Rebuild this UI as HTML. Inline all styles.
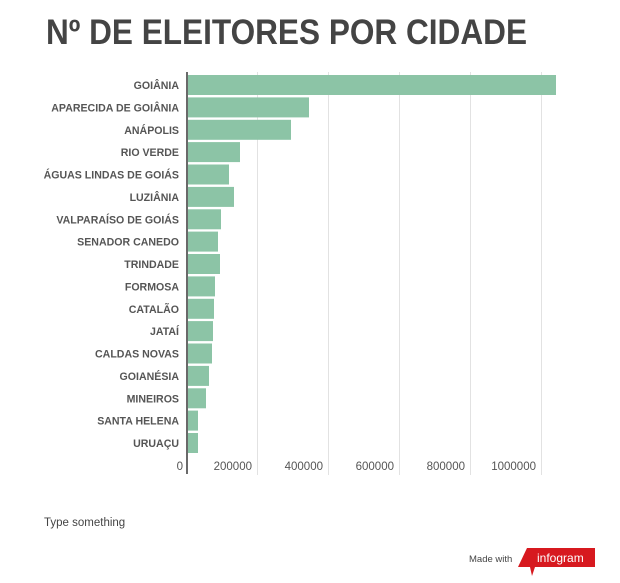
<!DOCTYPE html>
<html><head><meta charset="utf-8"><style>
html,body{margin:0;padding:0;background:#fff;}
svg{display:block;font-family:"Liberation Sans",sans-serif;}
</style></head><body>
<svg width="620" height="583" viewBox="0 0 620 583" xmlns="http://www.w3.org/2000/svg">
<text x="46" y="44" font-size="35" font-weight="bold" fill="#444" textLength="481" lengthAdjust="spacingAndGlyphs">Nº DE ELEITORES POR CIDADE</text>
<g stroke="#e2e2e2" stroke-width="1">
<line x1="257.5" y1="72" x2="257.5" y2="475"/>
<line x1="328.5" y1="72" x2="328.5" y2="475"/>
<line x1="399.5" y1="72" x2="399.5" y2="475"/>
<line x1="470.5" y1="72" x2="470.5" y2="475"/>
<line x1="541.5" y1="72" x2="541.5" y2="475"/>
</g>
<g fill="#8cc4a6">
<rect x="188" y="75" width="368" height="20"/>
<rect x="188" y="97.4" width="121" height="20"/>
<rect x="188" y="119.8" width="103" height="20"/>
<rect x="188" y="142.1" width="52" height="20"/>
<rect x="188" y="164.5" width="41" height="20"/>
<rect x="188" y="186.9" width="46" height="20"/>
<rect x="188" y="209.3" width="33" height="20"/>
<rect x="188" y="231.6" width="30" height="20"/>
<rect x="188" y="254" width="32" height="20"/>
<rect x="188" y="276.4" width="27" height="20"/>
<rect x="188" y="298.8" width="26" height="20"/>
<rect x="188" y="321.1" width="25" height="20"/>
<rect x="188" y="343.5" width="24" height="20"/>
<rect x="188" y="365.9" width="21" height="20"/>
<rect x="188" y="388.3" width="18" height="20"/>
<rect x="188" y="410.6" width="10" height="20"/>
<rect x="188" y="433" width="10" height="20"/>
</g>
<line x1="187" y1="72" x2="187" y2="474" stroke="#444" stroke-width="1.6"/>
<g font-size="10.6" font-weight="bold" fill="#555" text-anchor="end">
<text x="179" y="89">GOIÂNIA</text>
<text x="179" y="111.4">APARECIDA DE GOIÂNIA</text>
<text x="179" y="133.8">ANÁPOLIS</text>
<text x="179" y="156.1">RIO VERDE</text>
<text x="179" y="178.5">ÁGUAS LINDAS DE GOIÁS</text>
<text x="179" y="200.9">LUZIÂNIA</text>
<text x="179" y="223.3">VALPARAÍSO DE GOIÁS</text>
<text x="179" y="245.6">SENADOR CANEDO</text>
<text x="179" y="268">TRINDADE</text>
<text x="179" y="290.4">FORMOSA</text>
<text x="179" y="312.8">CATALÃO</text>
<text x="179" y="335.1">JATAÍ</text>
<text x="179" y="357.5">CALDAS NOVAS</text>
<text x="179" y="379.9">GOIANÉSIA</text>
<text x="179" y="402.3">MINEIROS</text>
<text x="179" y="424.6">SANTA HELENA</text>
<text x="179" y="447">URUAÇU</text>
</g>
<g font-size="11.5" fill="#555" text-anchor="end">
<text x="183" y="470">0</text>
<text x="252" y="470">200000</text>
<text x="323" y="470">400000</text>
<text x="394" y="470">600000</text>
<text x="465" y="470">800000</text>
<text x="536" y="470">1000000</text>
</g>
<text x="44" y="526" font-size="11.5" fill="#444">Type something</text>
<text x="469" y="562" font-size="9.5" fill="#444">Made with</text>
<polygon points="527,548 595,548 595,567 535,567 532,576 530,567 518,567" fill="#d7191f"/>
<text x="537" y="562" font-size="12" fill="#fff">infogram</text>
</svg>
</body></html>
